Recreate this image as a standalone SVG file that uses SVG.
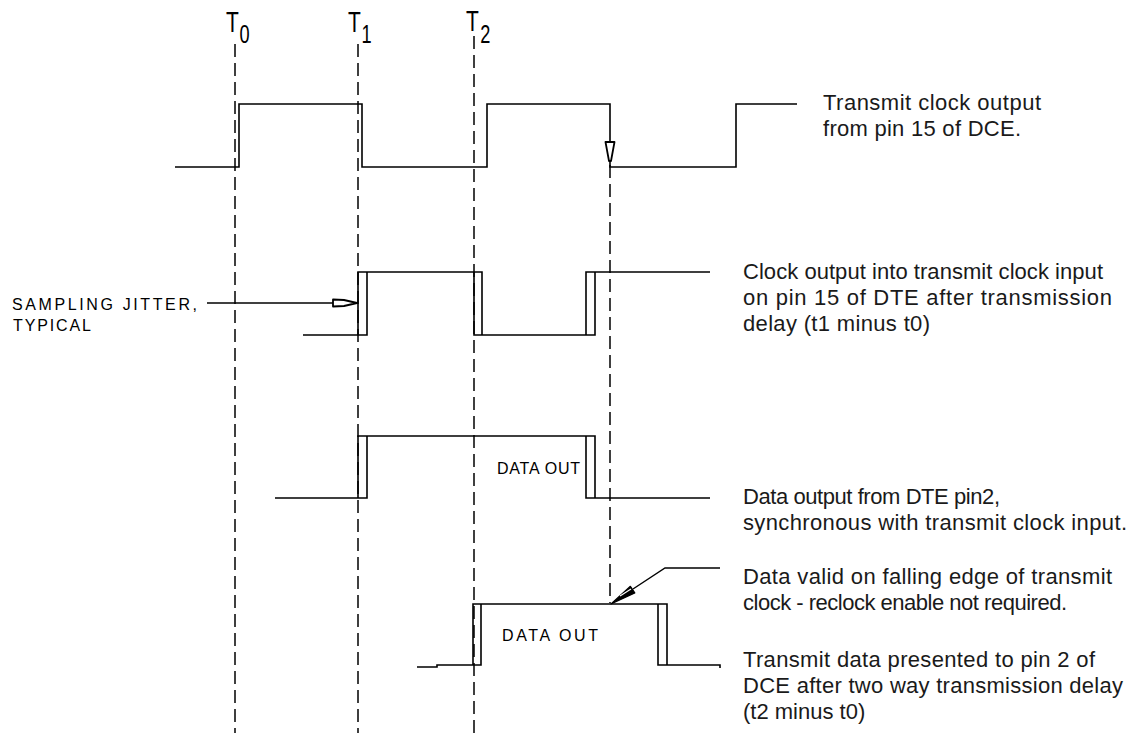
<svg xmlns="http://www.w3.org/2000/svg" width="1137" height="733" viewBox="0 0 1137 733">
<style>
.sig{fill:none;stroke:#000;stroke-width:1.6;stroke-linejoin:miter}
.dash{fill:none;stroke:#000;stroke-width:1.5;stroke-dasharray:13 6}
.lead{fill:none;stroke:#000;stroke-width:1.4}
.head{fill:#fff;stroke:#000;stroke-width:1.8;stroke-linejoin:round}
.headd{fill:#000;stroke:#000;stroke-width:1.2;stroke-linejoin:round}
.lbl{font-family:"Liberation Sans",Arial,sans-serif;font-size:22px;fill:#1a1a1a}
.cad{font-family:"Liberation Sans",Arial,sans-serif;font-size:16px;fill:#000}
.tm{font-family:"Liberation Sans",Arial,sans-serif;font-size:30px;fill:#000}
.sub{font-size:26px}
</style>
<rect width="1137" height="733" fill="#fff"/>

<g id="time-markers">
  <g id="T0">
    <line class="dash" x1="235" y1="44" x2="235" y2="733"/>
    <text class="tm" transform="translate(226,32) scale(0.7,1)">T<tspan class="sub" dx="1" dy="11">0</tspan></text>
  </g>
  <g id="T1">
    <line class="dash" x1="358" y1="44" x2="358" y2="733"/>
    <text class="tm" transform="translate(348,32) scale(0.7,1)">T<tspan class="sub" dx="1" dy="11">1</tspan></text>
  </g>
  <g id="T2">
    <line class="dash" x1="474" y1="36" x2="474" y2="733"/>
    <text class="tm" transform="translate(466,31) scale(0.7,1)">T<tspan class="sub" dx="2" dy="12">2</tspan></text>
  </g>
  <line id="falling-edge-marker" class="dash" x1="610" y1="165" x2="610" y2="603"/>
</g>

<g id="sig-dce-clock">
  <path class="sig" d="M175 167 H239 V104 H362 V167 H487 V104 H610 V167 H736 V104 H797"/>
</g>

<g id="sig-dte-clock">
  <path class="sig" d="M303 335 H367 V272 M358 335 V272 H482 V335 M474 272 V335 H595 V272 M586 335 V272 H710"/>
</g>

<g id="sig-dte-data">
  <path class="sig" d="M275 498 H367 V436 M358 498 V436 H595 V498 M586 436 V498 H710"/>
  <text class="cad" x="497" y="474" textLength="83" lengthAdjust="spacing">DATA OUT</text>
</g>

<g id="sig-dce-data">
  <path class="sig" d="M417 667 H437 V665 H481 V604 M473 665 V604 H667 V665 M658 604 V665 H720 V668"/>
  <text class="cad" x="502" y="641" textLength="96" lengthAdjust="spacing">DATA OUT</text>
</g>

<g id="label-jitter">
  <text class="cad" x="12" y="310" textLength="185" lengthAdjust="spacing">SAMPLING JITTER,</text>
  <text class="cad" x="13" y="331" textLength="78" lengthAdjust="spacing">TYPICAL</text>
</g>

<g id="label-dce-clock">
  <text class="lbl" x="823" y="110" textLength="218" lengthAdjust="spacing">Transmit clock output</text>
  <text class="lbl" x="823" y="136" textLength="198" lengthAdjust="spacing">from pin 15 of DCE.</text>
</g>

<g id="label-dte-clock">
  <text class="lbl" x="743" y="279" textLength="360" lengthAdjust="spacing">Clock output into transmit clock input</text>
  <text class="lbl" x="743" y="305" textLength="369" lengthAdjust="spacing">on pin 15 of DTE after transmission</text>
  <text class="lbl" x="743" y="331" textLength="187" lengthAdjust="spacing">delay (t1 minus t0)</text>
</g>

<g id="label-dte-data">
  <text class="lbl" x="743" y="504" textLength="257" lengthAdjust="spacing">Data output from DTE pin2,</text>
  <text class="lbl" x="743" y="530" textLength="384" lengthAdjust="spacing">synchronous with transmit clock input.</text>
</g>

<g id="label-valid">
  <text class="lbl" x="743" y="584" textLength="369" lengthAdjust="spacing">Data valid on falling edge of transmit</text>
  <text class="lbl" x="743" y="610" textLength="324" lengthAdjust="spacing">clock - reclock enable not required.</text>
</g>

<g id="label-dce-data">
  <text class="lbl" x="743" y="667" textLength="352" lengthAdjust="spacing">Transmit data presented to pin 2 of</text>
  <text class="lbl" x="743" y="693" textLength="380" lengthAdjust="spacing">DCE after two way transmission delay</text>
  <text class="lbl" x="743" y="719">(t2 minus t0)</text>
</g>

<g id="connectors">
  <line class="lead" x1="207" y1="303" x2="334" y2="303"/>
  <polygon class="head" points="333,299.5 344,300 357,303 344,306 333,306.5"/>
  <polygon class="head" points="605.5,142 614.5,142 611,161 609,161"/>
  <polyline class="lead" points="720,568 665,568 633,589"/>
  <polygon class="headd" points="611,604 630.4,586.3 634.8,592.9"/>
  <line x1="620" y1="596" x2="631" y2="589" stroke="#fff" stroke-width="1.2"/>
</g>
</svg>
